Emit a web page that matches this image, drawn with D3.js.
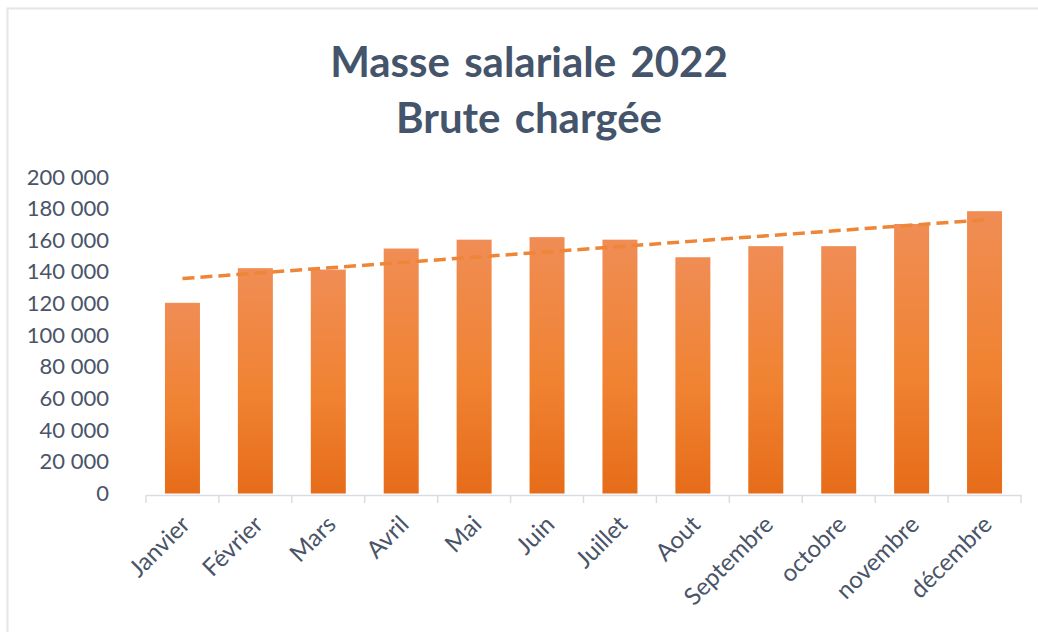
<!DOCTYPE html>
<html>
<head>
<meta charset="UTF-8">
<script src="https://cdn.jsdelivr.net/npm/d3@7"></script>
<style>
  body { margin: 0; background: #fff; }
  text { font-family: Lato, "Open Sans", sans-serif; }
</style>
</head>
<body>
<svg id="chart"></svg>
<script>
const months = ["Janvier", "Février", "Mars", "Avril", "Mai", "Juin", "Juillet",
                "Aout", "Septembre", "octobre", "novembre", "décembre"];
const salaries = [120500, 142400, 141500, 154800, 160400, 162000, 160400,
                  149300, 156300, 156300, 170300, 178400];
const yTicks = [0, 20000, 40000, 60000, 80000, 100000, 120000, 140000, 160000, 180000, 200000];
const titleLines = ["Masse salariale 2022", "Brute chargée"];

const width = 1038, height = 632;
const margin = {left: 146, right: 17, top: 177, bottom: 137};

const svg = d3.select("#chart").attr("width", width).attr("height", height);

// frame lines (top + left, as in the original)
svg.append("path")
  .attr("d", "M7.5,1038 V8.5 H1038")
  .attr("fill", "none").attr("stroke", "#e3e6ea").attr("stroke-width", 2);

const x = d3.scaleBand()
  .domain(months)
  .range([margin.left, width - margin.right])
  .paddingInner(0.52).paddingOuter(0.26);

const y = d3.scaleLinear()
  .domain([0, 200000])
  .range([height - margin.bottom - 1.5, margin.top]);

// gradient for bars
const grad = svg.append("defs").append("linearGradient")
  .attr("id", "barGrad").attr("x1", 0).attr("y1", 0).attr("x2", 0).attr("y2", 1);
grad.append("stop").attr("offset", "0%").attr("stop-color", "#f08d55");
grad.append("stop").attr("offset", "55%").attr("stop-color", "#f08332");
grad.append("stop").attr("offset", "100%").attr("stop-color", "#e66c19");

svg.append("g").selectAll("rect")
  .data(salaries)
  .join("rect")
    .attr("x", (d, i) => x(months[i]))
    .attr("y", d => y(d))
    .attr("width", x.bandwidth())
    .attr("height", d => y(0) - y(d))
    .attr("fill", "url(#barGrad)");

// x axis
const fmt = d => d3.format(",")(d).replace(/,/g, " ");
const axisY = height - margin.bottom;
const xAxis = svg.append("g")
  .attr("transform", `translate(0,${axisY})`)
  .call(d3.axisBottom(x).tickSize(0).tickFormat(""));
xAxis.select(".domain").attr("stroke", "#d9dde3").attr("stroke-width", 1.5);
xAxis.selectAll(".tick").remove();

// boundary ticks between categories
const bounds = d3.range(months.length + 1).map(i => margin.left + i * (width - margin.left - margin.right) / months.length);
xAxis.selectAll("line.sep")
  .data(bounds)
  .join("line")
    .attr("class", "sep")
    .attr("x1", d => d).attr("x2", d => d)
    .attr("y1", 0).attr("y2", 8)
    .attr("stroke", "#d9dde3").attr("stroke-width", 1.5);

xAxis.selectAll("text.lbl")
  .data(months)
  .join("text")
    .attr("class", "lbl")
    .attr("transform", d => `translate(${x(d) + x.bandwidth() / 2 + 9},${31}) rotate(-45)`)
    .attr("text-anchor", "end")
    .attr("font-size", 24)
    .attr("fill", "#4a5468")
    .text(d => d);

// y axis labels
const yAxis = svg.append("g")
  .attr("transform", `translate(109,0)`)
  .call(d3.axisLeft(y).tickValues(yTicks).tickSize(0).tickFormat(fmt));
yAxis.select(".domain").remove();
yAxis.selectAll("text")
  .attr("x", 0)
  .attr("font-size", 22)
  .attr("font-family", "Lato, 'Open Sans', sans-serif")
  .attr("fill", "#4a5468");

// linear trend line
const xs = d3.range(1, months.length + 1);
const mx = d3.mean(xs), my = d3.mean(salaries);
const slope = d3.sum(xs, (v, i) => (v - mx) * (salaries[i] - my)) / d3.sum(xs, v => (v - mx) ** 2);
const icpt = my - slope * mx;
const trend = [xs[0], xs[xs.length - 1]].map(v => ({i: v - 1, val: icpt + slope * v}));
svg.append("path")
  .datum(trend)
  .attr("d", d3.line().x(d => x(months[d.i]) + x.bandwidth() / 2).y(d => y(d.val)))
  .attr("fill", "none")
  .attr("stroke", "#ee8537")
  .attr("stroke-width", 3.5)
  .attr("stroke-dasharray", "12,6");

// title
svg.append("g").selectAll("text")
  .data(titleLines)
  .join("text")
    .attr("x", 529)
    .attr("y", (d, i) => 77 + i * 56)
    .attr("text-anchor", "middle")
    .attr("font-size", 42)
    .attr("font-weight", "bold")
    .attr("word-spacing", 4)
    .attr("fill", "#44546a")
    .text(d => d);
</script>
</body>
</html>
